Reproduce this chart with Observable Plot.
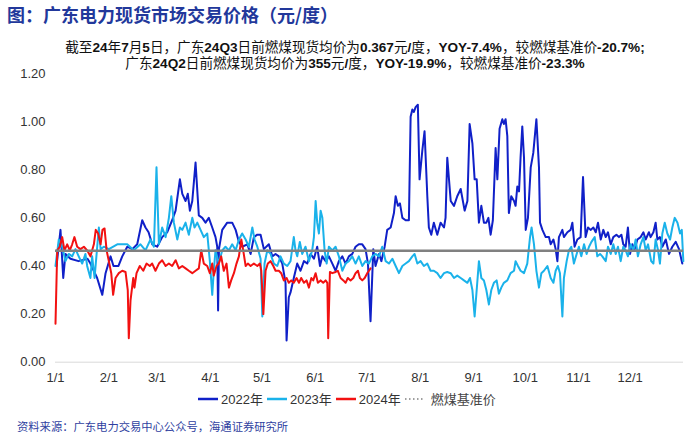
<!DOCTYPE html>
<html><head><meta charset="utf-8">
<script src="https://cdn.jsdelivr.net/npm/d3@7"></script>
<script src="https://cdn.jsdelivr.net/npm/@observablehq/plot@0.6"></script>
<style>
body{margin:0;background:#fff;}
#wrap{position:relative;width:700px;height:436px;overflow:hidden;background:#fff;font-family:"Liberation Sans","Noto Sans CJK SC",sans-serif;}
#title{position:absolute;left:7px;top:1px;font-size:18px;font-weight:bold;color:#22389b;font-family:"Noto Sans CJK SC",sans-serif;white-space:nowrap;}
.note{position:absolute;left:0;width:710px;text-align:center;font-size:13.6px;color:#111;white-space:nowrap;font-family:"Liberation Sans","Noto Sans CJK SC",sans-serif;}
.note b{font-weight:bold;}
#chart{position:absolute;left:0;top:0;}
#legend{position:absolute;top:389px;left:198px;font-size:13px;color:#333;display:flex;align-items:center;white-space:nowrap;}
#legend .it{display:flex;align-items:center;margin-right:4px;}
#legend svg{margin-right:3px;}
#source{position:absolute;left:17px;top:418px;font-size:11.3px;color:#2f3f9f;font-family:"Noto Sans CJK SC",sans-serif;white-space:nowrap;}
</style></head>
<body>
<div id="wrap">
  <div id="chart"></div>
  <div id="title"></div>
  <div class="note" id="note1" style="top:36px"></div>
  <div class="note" id="note2" style="top:52px"></div>
  <div id="legend"></div>
  <div id="source"></div>
</div>
<script>
const titleText = "图：广东电力现货市场交易价格（元/度）";
const noteLines = [
  "截至24年7月5日，广东24Q3日前燃煤现货均价为0.367元/度，YOY-7.4%，较燃煤基准价-20.7%;",
  "广东24Q2日前燃煤现货均价为355元/度，YOY-19.9%，较燃煤基准价-23.3%"
];
const sourceText = "资料来源：广东电力交易中心公众号，海通证券研究所";
const seriesNames = ["2022年", "2023年", "2024年"];
const benchmarkName = "燃煤基准价";
const benchmark = 0.463;
const monthDays = [0, 31, 59, 90, 120, 151, 181, 212, 243, 273, 304, 334];
const monthLabels = ["1/1","2/1","3/1","4/1","5/1","6/1","7/1","8/1","9/1","10/1","11/1","12/1"];
const yTicks = [0, 0.2, 0.4, 0.6, 0.8, 1.0, 1.2];

// [day of year, price 元/度]
const y2022 = [[0.6,0.40],[2.9,0.55],[4.5,0.35],[5.8,0.45],[8.7,0.43],[13.4,0.42],[18.6,0.43],[20.3,0.41],[24.2,0.35],[27.2,0.28],[29.1,0.37],[32,0.44],[33.7,0.40],[36.6,0.40],[38.8,0.44],[41.7,0.48],[44.6,0.47],[47.5,0.49],[50.4,0.59],[52.3,0.56],[54.1,0.54],[56.2,0.49],[59.1,0.48],[62,0.52],[64.9,0.54],[67.8,0.59],[69.8,0.63],[72.3,0.76],[73.7,0.70],[75.6,0.67],[76.9,0.70],[78.1,0.63],[79.5,0.67],[81.4,0.83],[83.3,0.61],[85.3,0.60],[87.2,0.58],[89.1,0.60],[91.1,0.56],[93,0.52],[94,0.48],[94.5,0.215],[95,0.47],[96.9,0.55],[99.8,0.58],[102.7,0.58],[104.7,0.55],[106.6,0.50],[108.5,0.48],[111.5,0.49],[113.4,0.45],[115.3,0.52],[117.3,0.53],[119.2,0.53],[121.1,0.47],[124,0.49],[126,0.44],[127.9,0.45],[129.8,0.44],[131.8,0.41],[133.7,0.33],[134.3,0.09],[135.6,0.27],[136.6,0.29],[138.5,0.35],[140.5,0.41],[142.4,0.38],[144.4,0.42],[146.3,0.41],[148.3,0.45],[150.2,0.43],[152.1,0.48],[153.7,0.40],[155.1,0.44],[157,0.42],[158.9,0.44],[160.9,0.41],[162.8,0.38],[164.7,0.42],[166.7,0.44],[168.6,0.41],[170.5,0.44],[172.5,0.45],[174.4,0.48],[176.3,0.49],[178.3,0.49],[180.2,0.47],[181.6,0.41],[183.1,0.17],[184.7,0.47],[186,0.40],[188,0.45],[189.4,0.42],[191.3,0.48],[192.8,0.55],[194.8,0.56],[196.7,0.62],[197.7,0.69],[199,0.65],[200.2,0.66],[201.6,0.60],[203.5,0.59],[205.4,0.59],[206.4,1.02],[207.4,1.05],[208.3,1.04],[209.3,1.06],[210.6,1.07],[211.6,0.76],[213.2,0.88],[214.5,0.96],[216.1,0.69],[217,0.56],[218.4,0.53],[219.9,0.58],[221.9,0.53],[223.8,0.58],[225.8,0.56],[226.7,0.60],[227.7,0.85],[229.7,0.67],[231.6,0.65],[233.5,0.69],[235.5,0.72],[237.8,0.63],[239.4,0.67],[240.7,0.99],[242.3,0.91],[243.6,0.76],[244.8,0.76],[246.1,0.58],[247.5,0.65],[249,0.58],[250.4,0.58],[251.6,0.60],[252.9,0.53],[254.2,0.59],[255.8,0.89],[256.8,0.76],[258.1,0.97],[259.7,1.01],[260.6,0.99],[261.6,1.01],[262.6,0.94],[263.5,0.62],[264.9,0.69],[266.5,0.67],[267.4,0.65],[268.4,0.73],[269.4,0.71],[270.3,0.85],[271.3,0.98],[272.3,0.85],[273.3,0.55],[274.6,0.60],[276.2,0.81],[277.7,0.87],[279.5,1.01],[281,0.81],[281.6,0.58],[283,0.55],[284.9,0.52],[286.8,0.52],[287.8,0.49],[289.4,0.51],[290.7,0.47],[291.7,0.42],[292.6,0.52],[294.6,0.55],[295.5,0.52],[297.5,0.54],[299.4,0.55],[300.4,0.58],[301.7,0.48],[303.3,0.51],[305.2,0.52],[306.6,0.77],[308.1,0.52],[309.5,0.56],[311,0.55],[312.6,0.56],[314,0.54],[315.3,0.58],[316.9,0.51],[318.4,0.55],[319.8,0.52],[321.1,0.54],[322.7,0.49],[324.2,0.52],[326,0.53],[327.5,0.52],[328.9,0.53],[330,0.49],[331.4,0.48],[332.7,0.56],[333.9,0.45],[335.3,0.49],[336.6,0.47],[338.2,0.51],[340.1,0.52],[341.7,0.54],[343,0.51],[344.9,0.54],[345.9,0.52],[347.5,0.54],[348.8,0.58],[349.8,0.51],[351.3,0.52],[352.7,0.48],[354.7,0.51],[356.6,0.45],[358.5,0.48],[360.5,0.50],[362.4,0.47],[364.3,0.41]];

const y2023 = [[0,0.40],[1.9,0.51],[3.9,0.48],[5.8,0.42],[7.7,0.45],[9.7,0.44],[11.6,0.47],[13.5,0.44],[15.5,0.41],[17.4,0.45],[18.4,0.40],[20.3,0.35],[21.3,0.44],[22.7,0.35],[25.2,0.56],[26.2,0.47],[28.1,0.48],[31,0.47],[35.9,0.49],[41.7,0.49],[45.5,0.465],[49.4,0.49],[52.3,0.465],[55.2,0.51],[57.2,0.48],[58.7,0.81],[60.1,0.49],[62,0.56],[64,0.52],[65.9,0.60],[67.3,0.69],[68.8,0.58],[70.8,0.51],[72.3,0.56],[73.7,0.55],[75.6,0.58],[77.5,0.53],[79.5,0.60],[80.8,0.56],[82.4,0.58],[84.3,0.55],[86.2,0.52],[88.2,0.535],[89.7,0.42],[91.1,0.28],[92,0.38],[93,0.465],[94.9,0.41],[96.9,0.465],[98.8,0.48],[100.8,0.465],[102.7,0.49],[104.7,0.465],[106.6,0.51],[108.5,0.535],[110.5,0.51],[112.4,0.48],[114.4,0.56],[115.7,0.51],[117.3,0.48],[119.2,0.43],[120.2,0.19],[121.5,0.41],[123.1,0.465],[125,0.45],[126.9,0.41],[128.9,0.40],[130.8,0.44],[132.7,0.41],[134.7,0.40],[136.6,0.42],[138.5,0.52],[139.5,0.465],[140.5,0.44],[142,0.50],[143.4,0.45],[145.3,0.48],[147.3,0.42],[149.2,0.465],[150.2,0.52],[151.2,0.67],[152.1,0.58],[153.1,0.535],[154.1,0.63],[155.1,0.60],[156.4,0.465],[157.6,0.41],[158.9,0.48],[160.9,0.465],[162.8,0.48],[164.7,0.44],[166.7,0.38],[168.6,0.41],[170.5,0.42],[172.5,0.44],[174.4,0.41],[176.3,0.44],[178.3,0.40],[180.2,0.42],[182.2,0.41],[184.1,0.44],[186,0.45],[188,0.44],[189.9,0.48],[191.9,0.42],[193.8,0.41],[195.8,0.43],[197.7,0.40],[199.6,0.37],[201.6,0.40],[203.5,0.41],[205.4,0.42],[207.4,0.44],[208.7,0.45],[210.3,0.41],[212.2,0.42],[214.1,0.40],[216.1,0.41],[218,0.38],[219.9,0.38],[221.9,0.37],[223.8,0.35],[225.8,0.37],[227.7,0.375],[229.7,0.37],[231.6,0.35],[233.5,0.36],[235.5,0.35],[237.4,0.34],[239.4,0.33],[240.9,0.35],[242.3,0.30],[243.6,0.19],[246.1,0.42],[247.5,0.35],[249,0.34],[250.4,0.30],[251.9,0.24],[253.3,0.30],[254.8,0.33],[256.4,0.34],[257.7,0.285],[259.1,0.31],[260.6,0.33],[262.6,0.34],[264.5,0.37],[266.5,0.38],[267.4,0.42],[268.8,0.40],[270.3,0.38],[272.3,0.37],[274.2,0.41],[275.8,0.52],[276.7,0.56],[278.1,0.49],[279.5,0.38],[281,0.31],[282.4,0.37],[283.9,0.38],[285.9,0.40],[287.8,0.35],[289.4,0.33],[290.7,0.38],[292,0.40],[293.2,0.37],[294.6,0.19],[295.5,0.35],[297.1,0.42],[298.4,0.465],[299.8,0.48],[301.3,0.41],[302.9,0.45],[304.2,0.48],[305.6,0.44],[307.2,0.49],[308.7,0.45],[310.1,0.48],[311.5,0.50],[313.4,0.52],[314.9,0.44],[316.5,0.45],[317.8,0.44],[319.8,0.42],[321.1,0.48],[322.7,0.45],[324.2,0.49],[325.6,0.45],[326.9,0.48],[328.5,0.42],[330,0.48],[331.4,0.465],[332.7,0.44],[334.3,0.49],[335.9,0.465],[337.2,0.51],[338.5,0.44],[340.1,0.49],[341.7,0.52],[343,0.465],[344.4,0.49],[346.2,0.42],[347.5,0.41],[348.8,0.51],[350.2,0.465],[351.3,0.41],[352.7,0.535],[354.1,0.58],[355.6,0.535],[357.2,0.51],[358.5,0.56],[359.9,0.60],[361.5,0.58],[363,0.535],[364,0.55],[364.9,0.42]];

const y2024 = [[0,0.16],[1,0.465],[2.5,0.48],[3.9,0.52],[5.2,0.465],[6.8,0.49],[8.3,0.465],[9.7,0.49],[11,0.52],[12.6,0.48],[14.5,0.47],[16.5,0.48],[18.4,0.465],[20.3,0.44],[22.3,0.49],[23.4,0.55],[24.8,0.535],[26.2,0.49],[27.3,0.55],[28.5,0.556],[29.7,0.465],[31,0.42],[32.4,0.37],[33.5,0.28],[34.9,0.35],[36.8,0.37],[38.8,0.38],[40.7,0.375],[42,0.30],[42.6,0.10],[43.6,0.257],[45.2,0.35],[45.9,0.31],[47.1,0.37],[49,0.40],[51,0.38],[52.9,0.41],[54.8,0.40],[56.2,0.41],[58.1,0.38],[60.1,0.41],[62,0.424],[64,0.40],[65.9,0.41],[67.8,0.40],[69.8,0.424],[71.7,0.39],[73.7,0.40],[75.6,0.39],[77.5,0.38],[79.5,0.37],[81.4,0.38],[83.3,0.39],[84.7,0.465],[86.2,0.41],[88.2,0.40],[89.7,0.37],[91.1,0.41],[92,0.36],[93.6,0.40],[94.9,0.41],[96.3,0.44],[97.8,0.38],[99.4,0.41],[100.8,0.31],[102.1,0.34],[103.7,0.37],[105.2,0.41],[106.6,0.44],[108,0.51],[109.1,0.465],[110.5,0.40],[111.8,0.41],[113.4,0.40],[115.3,0.41],[117.3,0.40],[118.8,0.41],[119.6,0.38],[120.8,0.20],[122.1,0.38],[123.4,0.41],[125,0.42],[126.6,0.40],[127.9,0.38],[129.8,0.38],[131.2,0.37],[132.7,0.34],[134.3,0.35],[135.6,0.33],[137,0.34],[138.5,0.33],[140.1,0.35],[141.5,0.33],[142.8,0.35],[144.4,0.33],[145.9,0.34],[147.3,0.31],[148.7,0.35],[149.8,0.34],[151.2,0.37],[152.5,0.33],[154.1,0.34],[155.6,0.33],[157,0.34],[158,0.33],[158.5,0.10],[159.5,0.375],[160.9,0.37],[162.8,0.375],[164.1,0.38],[165.7,0.35],[167.3,0.34],[168.6,0.33],[169.9,0.35],[171.5,0.34],[173.1,0.35],[174.4,0.37],[175.8,0.38],[176.9,0.35],[178.3,0.34],[179.7,0.35],[181.2,0.37],[182.2,0.38],[183.1,0.39]];

const colors = ["#1020c8", "#1ab2ea", "#f21111"];
const benchColor = "#808080";

const toRows = arr => arr.map(([d, v]) => ({d, v}));

const chart = Plot.plot({
  width: 700,
  height: 390,
  marginLeft: 55,
  marginRight: 17,
  marginTop: 73,
  marginBottom: 28.3,
  style: {fontSize: "13px", fontFamily: "'Liberation Sans', Arial, sans-serif", color: "#333", background: "transparent"},
  x: {domain: [0, 365], ticks: monthDays, tickFormat: d => monthLabels[monthDays.indexOf(d)], tickSize: 0, tickPadding: 11, label: null},
  y: {domain: [0, 1.2], ticks: yTicks, tickFormat: d => d.toFixed(2), tickSize: 0, tickPadding: 10, label: null},
  marks: [
    Plot.ruleY([0], {stroke: "#d9d9d9", strokeWidth: 1}),
    Plot.line(toRows(y2022), {x: "d", y: "v", stroke: colors[0], strokeWidth: 2, strokeLinejoin: "round"}),
    Plot.line(toRows(y2023), {x: "d", y: "v", stroke: colors[1], strokeWidth: 2, strokeLinejoin: "round"}),
    Plot.line(toRows(y2024), {x: "d", y: "v", stroke: colors[2], strokeWidth: 2, strokeLinejoin: "round"}),
    Plot.ruleY([benchmark], {stroke: benchColor, strokeWidth: 2.5})
  ]
});
document.getElementById("chart").appendChild(chart);

document.getElementById("title").textContent = titleText;
const boldify = s => s.replace(/([0-9A-Za-z.%\-\/;]+)/g, "<b>$1</b>");
document.getElementById("note1").innerHTML = boldify(noteLines[0]);
document.getElementById("note2").innerHTML = boldify(noteLines[1]);
document.getElementById("source").textContent = sourceText;

const legend = document.getElementById("legend");
seriesNames.forEach((name, i) => {
  const it = document.createElement("span");
  it.className = "it";
  it.innerHTML = `<svg width="20" height="10"><line x1="0" y1="5" x2="20" y2="5" stroke="${colors[i]}" stroke-width="2.5"/></svg><span>${name}</span>`;
  legend.appendChild(it);
});
const itb = document.createElement("span");
itb.className = "it";
itb.innerHTML = `<svg width="20" height="10"><line x1="0" y1="5" x2="20" y2="5" stroke="${benchColor}" stroke-width="1.5" stroke-dasharray="1.5,2.5"/></svg><span style="font-family:'Noto Sans CJK SC';color:#444">&nbsp;${benchmarkName}</span>`;
legend.appendChild(itb);
</script>
</body></html>
